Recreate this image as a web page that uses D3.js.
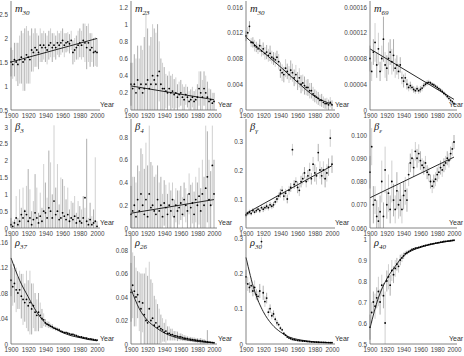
<!DOCTYPE html>
<html><head><meta charset="utf-8">
<script src="https://cdn.jsdelivr.net/npm/d3@7"></script>
<style>body{margin:0;background:#fff}svg{display:block}</style></head>
<body><svg id="chart" width="464" height="356"></svg>
<script>
// ---------- DATA ----------
const years = [1900,1902,1904,1906,1908,1910,1912,1914,1916,1918,1920,1922,1924,1926,1928,1930,1932,1934,1936,1938,1940,1942,1944,1946,1948,1950,1952,1954,1956,1958,1960,1962,1964,1966,1968,1970,1972,1974,1976,1978,1980,1982,1984,1986,1988,1990,1992,1994,1996,1998,2000];
const xTicks = [1900,1920,1940,1960,1980,2000];
const fitYears = [1900,1910,1920,1930,1940,1950,1960,1970,1980,1990,2000];

const titles = [["m","30"],["m","23"],["m","30"],["m","69"],["β","3"],["β","4"],["β","γ"],["β","ε"],["ρ","37"],["ρ","26"],["ρ","30"],["ρ","40"]];

// panel 1
const p1Val = [1.5,1.45,1.55,1.5,1.45,1.55,1.6,1.5,1.55,1.65,1.6,1.55,1.75,1.7,1.8,1.75,1.7,1.85,1.8,1.85,1.8,1.75,1.85,1.9,1.8,1.85,1.8,1.9,1.85,1.9,1.95,1.85,1.9,1.92,1.88,1.95,1.7,1.75,1.8,1.85,1.9,1.85,1.95,1.9,1.8,1.9,1.75,1.8,1.7,1.72,1.7];
const p1Err = [.3,.3,.35,.4,.45,.5,.55,.6,.65,.6,.55,.5,.45,.4,.4,.35,.35,.35,.3,.3,.3,.3,.3,.3,.3,.25,.25,.25,.25,.25,.25,.25,.2,.2,.2,.2,.25,.25,.25,.3,.3,.3,.35,.4,.45,.4,.35,.3,.3,.3,.3];
const p1FitX = [1900,2000], p1Fit = [1.5,1.99];
const p1Ticks = [0.5,1,1.5,2,2.5], p1Labels = ["0.5","1","1.5","2","2.5"];
// panel 2
const p2Val = [.3,.25,.3,.2,.35,.25,.3,.2,.25,.3,.35,.25,.3,.4,.35,.3,.4,.45,.3,.25,.25,.22,.2,.25,.2,.22,.18,.2,.15,.18,.2,.15,.12,.18,.15,.1,.12,.15,.1,.12,.15,.25,.2,.15,.25,.2,.15,.1,.12,.08,.1];
const p2Err = [.25,.3,.35,.4,.4,.35,.45,.5,.6,.85,.6,.5,.55,.6,.6,.6,.6,.35,.3,.3,.25,.2,.2,.2,.2,.2,.18,.18,.15,.15,.15,.15,.15,.12,.12,.12,.12,.12,.12,.12,.15,.2,.25,.2,.2,.2,.18,.15,.12,.12,.1];
const p2FitX = [1900,2000], p2Fit = [.28,.12];
const p2Ticks = [0,.2,.4,.6,.8,1,1.2], p2Labels = ["0","0.2","0.4","0.6","0.8","1","1.2"];
// panel 3
const p3Val = [.0115,.012,.013,.0105,.0105,.01,.0098,.0095,.01,.0092,.0095,.0088,.009,.0085,.0088,.0082,.008,.0078,.0082,.0075,.0062,.0058,.0055,.0065,.006,.0055,.0062,.0058,.005,.0055,.0045,.005,.004,.0042,.0038,.0035,.0035,.003,.003,.0025,.0022,.002,.0018,.0015,.0015,.0012,.001,.001,.0008,.0012,.0008];
const p3Err = [.0008,.0009,.0008,.0007,.0008,.0009,.0008,.0008,.001,.0009,.001,.001,.0011,.001,.0012,.001,.001,.0011,.001,.0012,.0012,.0013,.0012,.0014,.0012,.0013,.0015,.0014,.0013,.0015,.0014,.0015,.0014,.0013,.0014,.0012,.0013,.0012,.0012,.0011,.001,.001,.001,.0009,.001,.0009,.0008,.0009,.0008,.0008,.0007];
const p3FitX = [1900,1920,1940,1960,1980,2000], p3Fit = [.0113,.009,.0067,.0043,.0021,.0009];
const p3Ticks = [0,.004,.008,.012,.016], p3Labels = ["0","0.004","0.008","0.012","0.016"];
// panel 4
const p4Val = [8e-5,6e-5,9e-5,10.5e-5,7e-5,9.5e-5,6e-5,8e-5,11e-5,7e-5,6.5e-5,8e-5,9e-5,7.5e-5,8.5e-5,6.5e-5,7e-5,6e-5,7e-5,5e-5,4.5e-5,5e-5,4e-5,3.5e-5,3.8e-5,3.5e-5,3.2e-5,3.0e-5,3.3e-5,3.0e-5,3.2e-5,3.4e-5,3.8e-5,4.0e-5,4.2e-5,4.3e-5,4.2e-5,4.0e-5,3.9e-5,3.7e-5,3.5e-5,3.3e-5,3.1e-5,2.9e-5,2.6e-5,2.4e-5,2.1e-5,1.8e-5,1.5e-5,1.3e-5,1.0e-5];
const p4Err = [2e-5,1.5e-5,2e-5,3e-5,2e-5,2.5e-5,1.5e-5,2e-5,3.5e-5,2e-5,2e-5,2.5e-5,2e-5,2e-5,2.5e-5,1.5e-5,1.5e-5,1.2e-5,1.2e-5,1e-5,1e-5,.8e-5,.8e-5,.6e-5,.6e-5,.5e-5,.5e-5,.5e-5,.5e-5,.5e-5,.5e-5,.5e-5,.4e-5,.4e-5,.4e-5,.4e-5,.3e-5,.3e-5,.3e-5,.3e-5,.3e-5,.3e-5,.3e-5,.3e-5,.3e-5,.3e-5,.3e-5,.3e-5,.3e-5,.2e-5,.2e-5];
const p4FitX = [1900,2000], p4Fit = [9.5e-5,1.65e-5];
const p4Ticks = [0,4e-5,8e-5,12e-5,16e-5], p4Labels = ["0","0.00004","0.00008","0.00012","0.00016"];
// panel 5
const p5Val = [.1,.05,.15,.3,.1,.2,.4,.3,.5,.4,.2,.3,.1,.25,.45,.3,.15,.35,.2,.5,.45,.3,.6,.5,.3,.8,.4,.5,.25,.3,.45,.35,.25,.4,.2,.3,.25,.35,.15,.3,.2,.15,.3,.9,.2,.1,.25,.1,.15,.2,.05];
const p5Hi = [.3,.2,.25,.95,.3,1.15,.6,1.2,.55,1.25,1.75,1.15,.5,.8,1.6,1.2,.45,1.05,.6,1.9,1.35,.9,2.3,1.95,1.0,3.05,1.2,1.9,.7,1.5,1.45,1.25,.85,1.2,.55,.8,.75,.95,.45,.8,.65,.55,.95,.6,2.65,.3,.75,.35,.55,2.1,.2];
const p5Ticks = [0,.5,1,1.5,2,2.5,3], p5Labels = ["0","0.5","1","1.5","2","2.5","3"];
// panel 6
const p6Val = [.12,.15,.2,.1,.25,.15,.3,.2,.12,.25,.1,.3,.18,.2,.15,.12,.25,.15,.2,.1,.22,.18,.12,.2,.15,.25,.1,.2,.15,.18,.22,.12,.25,.2,.15,.3,.18,.22,.12,.25,.2,.28,.15,.3,.2,.35,.45,.25,.2,.55,.3];
const p6Err = [.25,.3,.25,.3,.3,.35,.4,.45,.4,.5,.45,.6,.4,.35,.3,.35,.3,.25,.25,.2,.2,.2,.18,.2,.18,.15,.15,.15,.18,.15,.15,.15,.15,.15,.15,.18,.2,.18,.2,.2,.2,.25,.2,.3,.25,.55,.4,.35,.3,.35,.3];
const p6FitX = [1900,2000], p6Fit = [.13,.25];
const p6Ticks = [0,.2,.4,.6,.8], p6Labels = ["0","0.2","0.4","0.6","0.8"];
// panel 7
const p7Val = [.045,.05,.055,.05,.06,.055,.06,.065,.06,.07,.065,.07,.075,.07,.08,.075,.08,.09,.1,.11,.12,.13,.11,.12,.1,.13,.14,.27,.15,.16,.14,.13,.16,.17,.19,.16,.18,.2,.17,.22,.19,.18,.26,.2,.18,.2,.17,.19,.21,.31,.22];
const p7Err = [.008,.008,.008,.008,.008,.008,.008,.008,.008,.008,.01,.01,.01,.01,.01,.01,.01,.01,.012,.012,.015,.015,.015,.015,.015,.015,.015,.02,.015,.015,.02,.02,.02,.02,.02,.02,.02,.025,.02,.025,.03,.03,.03,.03,.03,.03,.03,.03,.03,.03,.03];
const p7FitX = [1900,2000], p7Fit = [.05,.215];
const p7Ticks = [0,.1,.2,.3], p7Labels = ["0","0.1","0.2","0.3"];
// panel 8
const p8Val = [.084,.095,.07,.072,.065,.063,.067,.08,.065,.085,.07,.075,.068,.08,.072,.068,.076,.07,.072,.068,.074,.076,.072,.083,.088,.09,.086,.093,.09,.092,.089,.087,.086,.088,.084,.083,.08,.078,.08,.081,.083,.084,.086,.085,.087,.088,.09,.089,.092,.094,.097];
const p8Err = [.007,.008,.008,.006,.007,.006,.007,.009,.006,.01,.006,.008,.006,.009,.007,.006,.008,.006,.007,.006,.006,.006,.005,.005,.004,.004,.004,.004,.004,.004,.004,.003,.003,.003,.003,.003,.003,.003,.003,.003,.003,.003,.003,.003,.003,.003,.003,.003,.003,.003,.003];
const p8FitX = [1900,2000], p8Fit = [.073,.0905];
const p8Ticks = [.06,.07,.08,.09,.1], p8Labels = ["0.060","0.070","0.080","0.090","0.100"];
// panel 9
const p9Val = [.1,.09,.095,.085,.08,.085,.075,.07,.065,.07,.06,.065,.055,.06,.05,.045,.05,.045,.04,.038,.033,.031,.03,.028,.027,.025,.024,.023,.022,.02,.019,.018,.018,.017,.016,.015,.015,.014,.013,.012,.011,.011,.01,.0095,.009,.008,.008,.0075,.007,.0065,.006];
const p9Err = [.025,.03,.03,.035,.025,.03,.035,.04,.03,.045,.04,.05,.04,.035,.03,.025,.03,.02,.015,.01,.006,.005,.005,.004,.004,.003,.003,.003,.003,.002,.002,.002,.002,.002,.002,.002,.002,.002,.002,.002,.0015,.0015,.0015,.0015,.0015,.0015,.0015,.0015,.0015,.0015,.0015];
const p9Fit = [.135,.1,.074,.05,.033,.025,.018,.013,.01,.007,.005];
const p9Ticks = [0,.04,.08,.12,.16], p9Labels = ["0","0.04","0.08","0.12","0.16"];
// panel 10
const p10Val = [.044,.05,.045,.04,.042,.036,.03,.035,.025,.02,.018,.03,.02,.022,.016,.018,.014,.015,.013,.012,.01,.011,.009,.009,.008,.008,.007,.007,.0065,.006,.006,.0055,.005,.0048,.0045,.0042,.004,.0037,.0035,.0032,.003,.0028,.0026,.0024,.0022,.002,.0018,.0016,.0014,.0012,.001];
const p10Err = [.025,.028,.03,.025,.02,.025,.03,.025,.035,.045,.04,.04,.035,.03,.025,.02,.02,.015,.012,.01,.008,.01,.006,.006,.005,.005,.004,.004,.004,.003,.003,.003,.0025,.0025,.002,.002,.002,.002,.002,.002,.002,.002,.0025,.002,.002,.0015,.01,.0012,.001,.001,.001];
const p10Fit = [.047,.03,.02,.014,.0095,.0065,.0045,.0032,.0022,.0015,.001];
const p10Ticks = [0,.02,.04,.06,.08], p10Labels = ["0","0.02","0.04","0.06","0.08"];
// panel 11
const p11Val = [.19,.17,.16,.165,.15,.16,.14,.135,.15,.29,.145,.12,.13,.09,.1,.08,.085,.07,.06,.055,.045,.04,.03,.025,.02,.017,.015,.013,.012,.011,.01,.0095,.009,.0085,.008,.0075,.007,.0065,.006,.0058,.0055,.0052,.005,.0048,.0046,.0044,.0042,.004,.0038,.0036,.0035];
const p11Err = [.02,.02,.015,.02,.015,.02,.015,.015,.02,.012,.02,.015,.015,.012,.012,.01,.01,.008,.008,.006,.005,.005,.004,.004,.003,.003,.002,.002,.002,.002,.001,.001,.001,.001,.001,.001,.001,.001,.001,.001,.001,.001,.001,.001,.001,.001,.001,.001,.001,.001,.001];
const p11Fit = [.245,.15,.092,.056,.034,.02,.013,.009,.006,.0045,.0035];
const p11Ticks = [0,.1,.2,.3], p11Labels = ["0","0.1","0.2","0.3"];
// panel 12
const p12Val = [.58,.65,.7,.68,.72,.75,.7,.78,.73,.6,.8,.82,.78,.85,.83,.86,.88,.87,.9,.91,.92,.93,.935,.94,.945,.95,.953,.956,.958,.96,.962,.965,.967,.969,.971,.973,.975,.977,.978,.98,.982,.983,.985,.986,.988,.989,.99,.991,.992,.993,.994];
const p12Err = [.06,.05,.05,.06,.05,.07,.06,.05,.06,.15,.05,.06,.05,.05,.04,.04,.03,.03,.025,.02,.015,.012,.01,.008,.006,.005,.004,.004,.004,.003,.003,.003,.003,.003,.003,.003,.003,.003,.003,.003,.003,.003,.003,.003,.003,.003,.003,.003,.003,.003,.003];
const p12Fit = [.576,.72,.81,.87,.92,.945,.96,.972,.98,.987,.993];
const p12Ticks = [.5,.6,.7,.8,.9,1], p12Labels = ["0.5","0.6","0.7","0.8","0.9","1"];

// ---------- LAYOUT ----------
const colX0 = [11,131,246,370], colX1 = [97,214,332,454], yearX = [100,218,335,449];
const rowBottom = [110,228,344], rowTop = [1,119,235];
const panels = [
 {v:p1Val,e:p1Err,fx:p1FitX,f:p1Fit,t:p1Ticks,l:p1Labels,top:14},
 {v:p2Val,e:p2Err,fx:p2FitX,f:p2Fit,t:p2Ticks,l:p2Labels,top:7},
 {v:p3Val,e:p3Err,fx:p3FitX,f:p3Fit,t:p3Ticks,l:p3Labels,top:7},
 {v:p4Val,e:p4Err,fx:p4FitX,f:p4Fit,t:p4Ticks,l:p4Labels,top:7},
 {v:p5Val,h:p5Hi,t:p5Ticks,l:p5Labels,top:127},
 {v:p6Val,e:p6Err,fx:p6FitX,f:p6Fit,t:p6Ticks,l:p6Labels,top:137},
 {v:p7Val,e:p7Err,fx:p7FitX,f:p7Fit,t:p7Ticks,l:p7Labels,top:141},
 {v:p8Val,e:p8Err,fx:p8FitX,f:p8Fit,t:p8Ticks,l:p8Labels,top:135},
 {v:p9Val,e:p9Err,fx:fitYears,f:p9Fit,t:p9Ticks,l:p9Labels,top:242},
 {v:p10Val,e:p10Err,fx:fitYears,f:p10Fit,t:p10Ticks,l:p10Labels,top:250},
 {v:p11Val,e:p11Err,fx:fitYears,f:p11Fit,t:p11Ticks,l:p11Labels,top:238},
 {v:p12Val,e:p12Err,fx:fitYears,f:p12Fit,t:p12Ticks,l:p12Labels,top:239}
];

const svg = d3.select("#chart");
svg.append("rect").attr("width",464).attr("height",356).attr("fill","#fff");
const FONT = "Liberation Sans, Arial, sans-serif";

panels.forEach((p,i)=>{
  const r = Math.floor(i/4), c = i%4;
  const x0 = colX0[c], x1 = colX1[c], yb = rowBottom[r], yt = rowTop[r];
  const dmin = p.t[0], dmax = p.t[p.t.length-1];
  const x = d3.scaleLinear().domain([1900,2000]).range([x0,x1]);
  const y = d3.scaleLinear().domain([dmin,dmax]).range([yb,p.top]);
  const yMaxVal = y.invert(yt+2);
  const g = svg.append("g");
  const clampV = v => Math.max(dmin, Math.min(yMaxVal, v));

  // error bars
  g.append("g").selectAll("line").data(p.v).join("line")
    .attr("x1",(d,k)=>x(years[k])).attr("x2",(d,k)=>x(years[k]))
    .attr("y1",(d,k)=>y(clampV(p.h ? dmin : d - p.e[k])))
    .attr("y2",(d,k)=>y(clampV(p.h ? p.h[k] : d + p.e[k])))
    .attr("stroke",(d,k)=> k%2 ? "#c4c4c4" : "#999").attr("stroke-width",0.8);

  // fit line
  if (p.f) {
    g.append("path").datum(p.f.map((v,k)=>[p.fx[k],v]))
      .attr("d", d3.line().x(d=>x(d[0])).y(d=>y(d[1])).curve(d3.curveMonotoneX))
      .attr("fill","none").attr("stroke","#111").attr("stroke-width",0.9);
  }
  // points
  g.append("g").selectAll("circle").data(p.v).join("circle")
    .attr("cx",(d,k)=>x(years[k])).attr("cy",d=>y(clampV(d))).attr("r",0.9).attr("fill","#000");

  // axes
  const ax = g.append("g").attr("transform",`translate(0,${yb})`)
    .call(d3.axisBottom(x).tickValues(xTicks).tickFormat(d3.format("d")).tickSize(0).tickPadding(3.5));
  const ay = g.append("g").attr("transform",`translate(${x0},0)`)
    .call(d3.axisLeft(y).tickValues(p.t).tickFormat((d,k)=>p.l[k]).tickSize(0).tickPadding(3));
  [ax,ay].forEach(a=>{
    a.select(".domain").remove();
    a.selectAll("text").attr("font-family",FONT).attr("font-size",6.3).attr("fill","#444");
  });
  g.append("line").attr("x1",x0).attr("x2",x1+3).attr("y1",yb).attr("y2",yb).attr("stroke","#666").attr("stroke-width",0.8);
  g.append("line").attr("x1",x0).attr("x2",x0).attr("y1",yb).attr("y2",yt).attr("stroke","#666").attr("stroke-width",0.8);
  g.append("text").attr("x",yearX[c]).attr("y",yb-3).text("Year")
    .attr("font-family",FONT).attr("font-size",7).attr("fill","#333");

  // title
  const tt = g.append("text").attr("x",x0+4).attr("y",yt+11)
    .attr("font-family","Liberation Serif, Times New Roman, serif").attr("font-style","italic")
    .attr("font-size",10.5).attr("fill","#222");
  tt.append("tspan").text(titles[i][0]);
  tt.append("tspan").attr("dy",3).attr("font-size",7).text(titles[i][1]);
});
</script></body></html>
